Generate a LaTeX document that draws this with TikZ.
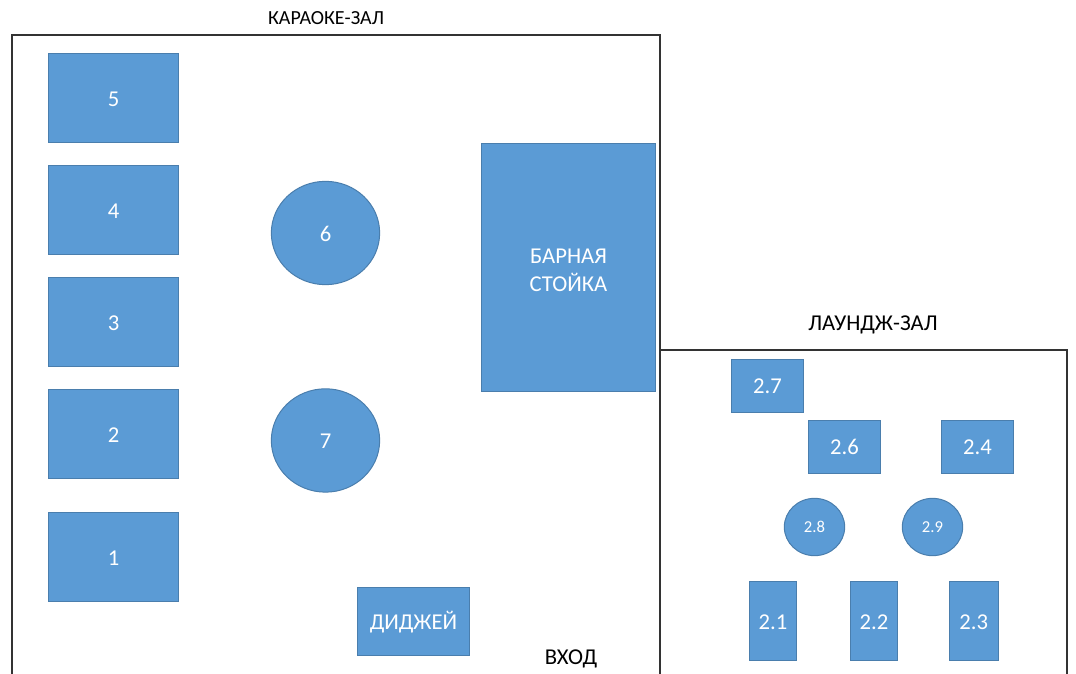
\documentclass[tikz,border=0pt]{standalone}
\usepackage{fontspec}
\setmainfont{Carlito}
\usepackage{tikz}
\usetikzlibrary{positioning,shapes.geometric}
\definecolor{tablefill}{HTML}{5B9BD5}
\definecolor{tableline}{HTML}{4A7EAD}
\tikzstyle{tablestyle}=[draw=tableline,fill=tablefill,line width=0.75pt,inner sep=0pt,text=white,font=\fontsize{17}{21}\selectfont,align=center]
\tikzstyle{tablenum}=[tablestyle,text height=12.5pt]
\tikzstyle{bigtable}=[tablenum,rectangle,minimum width=98pt,minimum height=67.25pt]
\tikzstyle{loungetable}=[tablenum,rectangle,minimum width=54.5pt,minimum height=39.75pt]
\tikzstyle{sofa}=[tablenum,rectangle,minimum width=35.75pt,minimum height=59.75pt]
\tikzstyle{biground}=[tablenum,ellipse,minimum width=81.25pt,minimum height=77.5pt]
\tikzstyle{smallround}=[tablenum,ellipse,minimum width=45.25pt,minimum height=43pt,font=\fontsize{12.5}{15}\selectfont,text height=8.5pt]
\tikzstyle{roomlabel}=[inner sep=0pt,font=\fontsize{17}{21}\selectfont]
\tikzstyle{roomwall}=[draw=black!80,line width=0.9pt]

\begin{document}
\begin{tikzpicture}[x=0.75pt,y=-0.75pt,on grid]
	\useasboundingbox (0,0) rectangle (1076,674);

	% karaoke room
	\coordinate (kbl) at (12,680);
	\coordinate (ktl) at (12,35);
	\coordinate (ktr) at (660,35);
	\coordinate (kbr) at (660,680);
	\draw[roomwall] (kbl) -- (ktl) -- (ktr) -- (kbr);
	\node[roomlabel,font=\fontsize{15}{19}\selectfont] (ktitle) at (326,18.5) {КАРАОКЕ-ЗАЛ};

	\node[bigtable] (t5) at (113.5,98) {5};
	\node[bigtable] (t4) [below=84pt of t5] {4};
	\node[bigtable] (t3) [below=84pt of t4] {3};
	\node[bigtable] (t2) [below=84pt of t3] {2};
	\node[bigtable] (t1) [below=92.25pt of t2] {1};
	\node[biground] (t6) at (325.5,233) {6};
	\node[biground] (t7) [below=155.6pt of t6] {7};
	\node[tablestyle,rectangle,minimum width=130.75pt,minimum height=186.5pt] (bar) at (568.5,267.5) {\rule{0pt}{15pt}БАРНАЯ\\СТОЙКА};
	\node[tablenum,rectangle,minimum width=84.5pt,minimum height=51.5pt,text height=14.5pt] (dj) at (413.5,621.5) {ДИДЖЕЙ};
	\node[roomlabel] (entry) at (571,659) {ВХОД};

	% lounge room
	\coordinate (lbl) at (660,680);
	\coordinate (ltl) at (660,350);
	\coordinate (ltr) at (1067,350);
	\coordinate (lbr) at (1067,680);
	\draw[roomwall] (lbl) -- (ltl) -- (ltr) -- (lbr);
	\node[roomlabel] (ltitle) at (873,325) {ЛАУНДЖ-ЗАЛ};

	\node[loungetable] (l7) at (767.5,385.5) {2.7};
	\node[loungetable] (l6) at (844.5,446.5) {2.6};
	\node[loungetable] (l4) [right=99.75pt of l6] {2.4};
	\node[smallround] (l8) at (814.5,527) {2.8};
	\node[smallround] (l9) [right=88.5pt of l8] {2.9};
	\node[sofa] (l1) at (773,621) {2.1};
	\node[sofa] (l2) [right=75.75pt of l1] {2.2};
	\node[sofa,minimum width=37pt] (l3) [right=150.5pt of l1] {2.3};
\end{tikzpicture}
\end{document}
